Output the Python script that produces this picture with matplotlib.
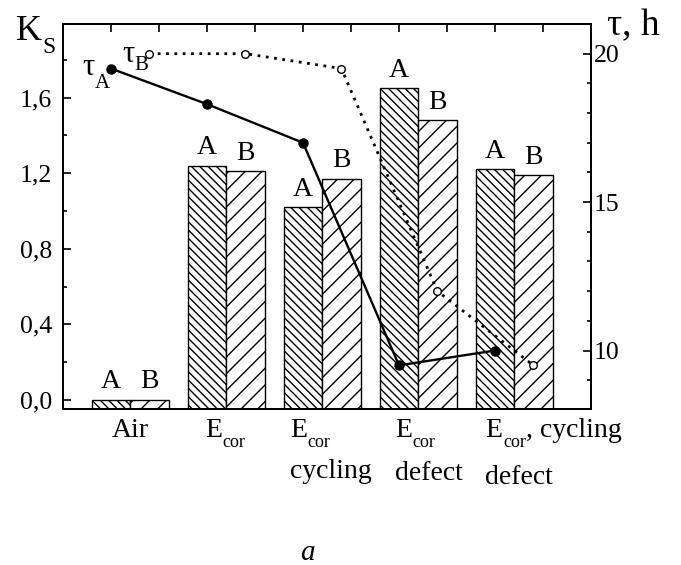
import matplotlib
matplotlib.use("Agg")
import matplotlib.pyplot as plt
from matplotlib.ticker import MultipleLocator, FuncFormatter, FixedLocator

plt.rcParams['font.family'] = ['Liberation Serif', 'DejaVu Serif']
plt.rcParams['hatch.linewidth'] = 1.0

# ---- data ----
cat_main = ["Air", "E", "E", "E", "E"]
cat_sub = ["", "cor", "cor", "cor", "cor"]
cat_tail = ["", "", "", "", ", cycling"]
second_line = ["", "", "cycling", "defect", "defect"]
ks_a = [0.0, 1.24, 1.02, 1.65, 1.22]
ks_b = [0.0, 1.21, 1.17, 1.48, 1.19]
tau_a = [19.5, 18.3, 17.0, 9.5, 10.0]
tau_b = [20.0, 20.0, 19.5, 12.0, 9.5]
left_ticks = [0.0, 0.4, 0.8, 1.2, 1.6]
right_ticks = [10, 15, 20]

W, H = 681, 565
fig = plt.figure(figsize=(W/100, H/100), dpi=100)
ax = fig.add_axes([63/W, 1-409/H, (591-63)/W, (409-24)/H])
ax2 = ax.twinx()
renderer = fig.canvas.get_renderer()

ymin, ymax = -0.048, 1.99
ax.set_ylim(ymin, ymax)
ax.set_xlim(-0.7, 4.8)
ax2.set_ylim(8.03, 21.0)

w = 0.4
xs = list(range(len(ks_a)))
xa = [x - w/2 for x in xs]
xb = [x + w/2 for x in xs]
ax.bar(xa, [v - ymin for v in ks_a], bottom=ymin, width=w, color='white',
       edgecolor='black', hatch='\\\\\\\\', linewidth=1.0)
ax.bar(xb, [v - ymin for v in ks_b], bottom=ymin, width=w, color='white',
       edgecolor='black', hatch='//', linewidth=1.0)
for x, v in zip(xa, ks_a):
    ax.annotate("A", (x, v), xytext=(0, 4), textcoords='offset points',
                ha='center', va='bottom', fontsize=20)
for x, v in zip(xb, ks_b):
    ax.annotate("B", (x, v), xytext=(0, 4), textcoords='offset points',
                ha='center', va='bottom', fontsize=20)

ax2.plot(xa, tau_a, '-', color='black', lw=1.7, marker='o', ms=6.5,
         mfc='black', mec='black')
ax2.plot(xb, tau_b, color='black', lw=2.0, linestyle=(0, (1.0, 2.0)),
         marker='o', ms=5.5, mfc='white', mec='black', mew=1.0)

# ticks
ax.yaxis.set_major_locator(FixedLocator(left_ticks))
ax.yaxis.set_minor_locator(MultipleLocator(0.2))
ax.yaxis.set_major_formatter(FuncFormatter(lambda v, p: f"{v:.1f}".replace('.', ',')))
ax.tick_params(axis='y', which='major', direction='in', length=6, width=1.2,
               labelsize=18.5, pad=8)
ax.tick_params(axis='y', which='minor', direction='in', length=3, width=1.2)
ax.set_xticks([-0.2 + 0.5*k for k in range(10)])
ax.tick_params(axis='x', which='both', direction='in', top=True, bottom=False,
               labelbottom=False, labeltop=False, length=6, width=1.2)

ax2.yaxis.set_major_locator(FixedLocator(right_ticks))
ax2.yaxis.set_minor_locator(MultipleLocator(1))
ax2.tick_params(axis='y', which='major', direction='in', length=6, width=1.2,
                labelsize=18.5, pad=2)
ax2.tick_params(axis='y', which='minor', direction='in', length=3, width=1.2)

for sp in list(ax.spines.values()) + list(ax2.spines.values()):
    sp.set_linewidth(1.4)


def chain(x_px, base_px, parts, style='normal'):
    """Place consecutive text pieces (text, size, drop_px) left to right."""
    x = x_px
    for txt, size, drop in parts:
        t = fig.text(x/W, 1-(base_px+drop)/H, txt, ha='left', va='baseline',
                     fontsize=size, style=style)
        bb = t.get_window_extent(renderer)
        x = bb.x1 + 0.5


def to_px(xd):
    return ax.transData.transform((xd, 0))[0]


# category labels (positions given in data x units of the bar axis)
start_x = [0.0, 0.78, 1.667, 2.76, 3.70]
line2_base = [0, 0, 478, 480, 484]
for i in range(len(cat_main)):
    if cat_sub[i] == "":
        tr = ax.get_xaxis_transform()
        ax.text(start_x[i], (409-437)/385, cat_main[i], transform=tr,
                ha='center', va='baseline', fontsize=20)
        continue
    parts = [(cat_main[i], 20, 0), (cat_sub[i], 13, 10)]
    if cat_tail[i]:
        parts.append((cat_tail[i], 20, 0))
    chain(to_px(start_x[i]), 437, parts)
    if second_line[i]:
        chain(to_px(start_x[i]), line2_base[i], [(second_line[i], 20, 0)])

# series and axis labels with lowered subscripts
chain(82, 75, [("τ", 22, 0), ("A", 15, 13)])
chain(122, 62, [("τ", 22, 0), ("B", 15, 8)])
chain(16, 40, [("K", 26, 0), ("S", 17, 13)])
fig.text(607/W, 1-35/H, "τ, h", ha='left', va='baseline', fontsize=27)
fig.text(307/W, 1-553/H, "a", ha='center', va='center', fontsize=21,
         style='italic')

fig.savefig("out.png", dpi=100)
